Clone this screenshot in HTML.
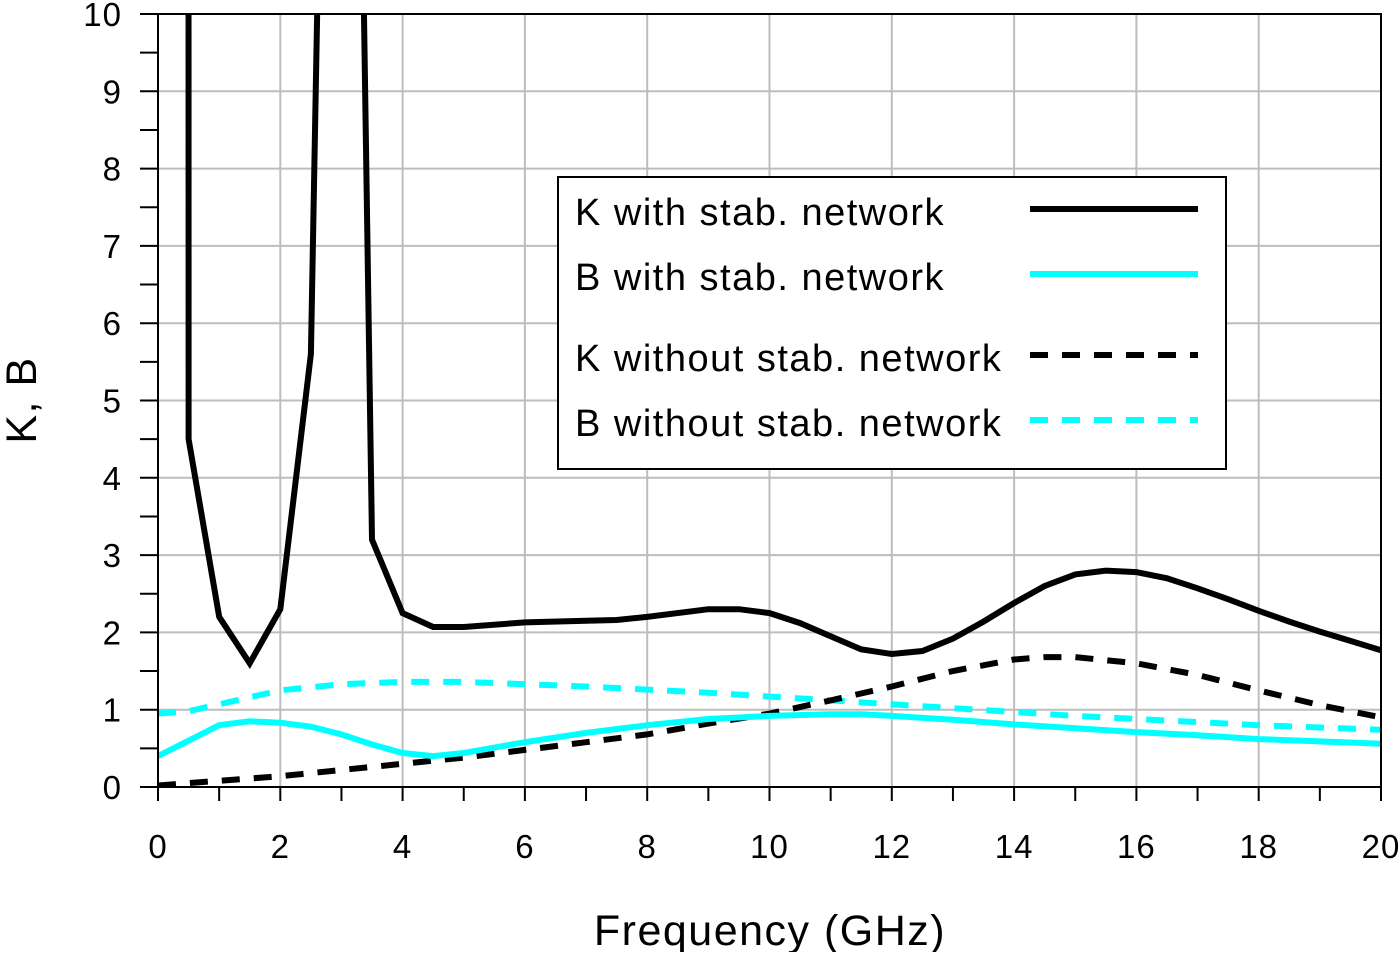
<!DOCTYPE html>
<html><head><meta charset="utf-8"><style>
body{margin:0;background:#fff;}
svg text{font-family:"Liberation Sans",sans-serif;}
</style></head><body>
<svg id="chart" width="1400" height="952" xmlns="http://www.w3.org/2000/svg"></svg>
<script>
const xTicks=[0,2,4,6,8,10,12,14,16,18,20];
const yTicks=[0,1,2,3,4,5,6,7,8,9,10];
const kWithF=[0.49,0.5,1,1.5,2,2.5,2.65,3.33,3.5,4,4.5,5,6,7,7.5,8,9,9.5,10,10.5,11,11.5,12,12.5,13,13.5,14,14.5,15,15.5,16,16.5,17,17.5,18,18.5,19,19.5,20];
const kWithV=[60,4.5,2.2,1.6,2.3,5.6,12,12,3.2,2.25,2.07,2.07,2.13,2.15,2.16,2.2,2.3,2.3,2.25,2.12,1.95,1.78,1.72,1.76,1.92,2.14,2.38,2.6,2.75,2.8,2.78,2.7,2.57,2.43,2.28,2.14,2.01,1.89,1.77];
const bWithF=[0,1,1.5,2,2.5,3,3.5,4,4.5,5,6,7,8,9,10,11,11.5,12,13,14,15,16,17,18,19,20];
const bWithV=[0.4,0.8,0.85,0.83,0.78,0.68,0.55,0.44,0.4,0.44,0.58,0.7,0.8,0.88,0.92,0.94,0.94,0.92,0.87,0.81,0.76,0.71,0.67,0.62,0.59,0.56];
const kWoF=[0,1,2,3,4,5,6,7,8,9,10,11,12,13,14,14.5,15,16,17,18,19,20];
const kWoV=[0.02,0.08,0.14,0.22,0.3,0.38,0.48,0.58,0.68,0.82,0.95,1.12,1.3,1.5,1.65,1.68,1.68,1.6,1.45,1.25,1.06,0.9];
const bWoF=[0,0.5,1,1.5,2,3,4,5,6,7,8,9,10,11,12,13,14,15,16,17,18,19,20];
const bWoV=[0.95,0.98,1.07,1.16,1.25,1.33,1.36,1.36,1.33,1.3,1.26,1.22,1.17,1.12,1.07,1.02,0.97,0.92,0.88,0.84,0.8,0.77,0.74];

const X0=158,X1=1381,Y0=787,Y1=14;
const sx=v=>X0+(X1-X0)*v/20, sy=v=>Y0-(Y0-Y1)*v/10;
const svg=document.getElementById('chart');
const NS='http://www.w3.org/2000/svg';
function mk(tag,attrs,parent){const e=document.createElementNS(NS,tag);for(const k in attrs)e.setAttribute(k,attrs[k]);(parent||svg).appendChild(e);return e;}
const defs=mk('defs',{});const cp=mk('clipPath',{id:'clip'},defs);mk('rect',{x:X0,y:Y1,width:X1-X0,height:Y0-Y1},cp);
for(let i=0;i<=20;i+=2){const g=mk('line',{x1:sx(i),x2:sx(i),y1:Y1,y2:Y0,stroke:'#bdbdbd','stroke-width':2});

}
for(let i=0;i<=10;i++){const g=mk('line',{x1:X0,x2:X1,y1:sy(i),y2:sy(i),stroke:'#bdbdbd','stroke-width':2});

}
for(let i=0;i<=20;i++){const t=mk('line',{x1:sx(i),x2:sx(i),y1:Y0,y2:Y0+14,stroke:'#000','stroke-width':2});

}
for(let i=0;i<=20;i++){const t=mk('line',{x1:X0-18,x2:X0,y1:sy(i/2),y2:sy(i/2),stroke:'#000','stroke-width':2});

}
xTicks.forEach(v=>{const t=mk('text',{x:sx(v),y:858,'font-size':33,'letter-spacing':1,'text-anchor':'middle'});t.textContent=v;

});
yTicks.forEach(v=>{const t=mk('text',{x:122,y:sy(v)+12,'font-size':33,'letter-spacing':1,'text-anchor':'end'});t.textContent=v;

});
function series(f,v,color,dash,name){const d=f.map((x,i)=>(i?'L':'M')+sx(x).toFixed(1)+' '+sy(v[i]).toFixed(1)).join(' ');
const p=mk('path',{d:d,fill:'none',stroke:color,'stroke-width':6,'clip-path':'url(#clip)','stroke-dasharray':dash||'none','stroke-linejoin':'miter'});

}
series(bWoF,bWoV,'#00ffff','18 14','b-without-stab-line');
series(kWoF,kWoV,'#000','18 14','k-without-stab-line');
series(bWithF,bWithV,'#00ffff','','b-with-stab-line');
series(kWithF,kWithV,'#000','','k-with-stab-line');
const fr=mk('rect',{x:X0,y:Y1,width:X1-X0,height:Y0-Y1,fill:'none',stroke:'#000','stroke-width':2});


const xt=mk('text',{x:770,y:945,'font-size':43,'letter-spacing':1.5,'text-anchor':'middle'});xt.textContent='Frequency (GHz)';


const yt=mk('text',{x:0,y:0,'font-size':43,'letter-spacing':1.5,'text-anchor':'middle',transform:'translate(36,400) rotate(-90)'});yt.textContent='K, B';


const lg=mk('g',{});


mk('rect',{x:558,y:177,width:668,height:292,fill:'#fff',stroke:'#000','stroke-width':2},lg);
const ent=[['K with stab. network','#000','',212],['B with stab. network','#00ffff','',277],['K without stab. network','#000','18 14',358],['B without stab. network','#00ffff','18 14',423]];
ent.forEach(e=>{const g=mk('g',{},lg);


const t=mk('text',{x:575,y:e[3]+13,'font-size':38,'letter-spacing':1.5},g);t.textContent=e[0];
mk('line',{x1:1030,x2:1198,y1:e[3]-3,y2:e[3]-3,stroke:e[1],'stroke-width':6,'stroke-dasharray':e[2]||'none'},g);});
</script>
</body></html>
